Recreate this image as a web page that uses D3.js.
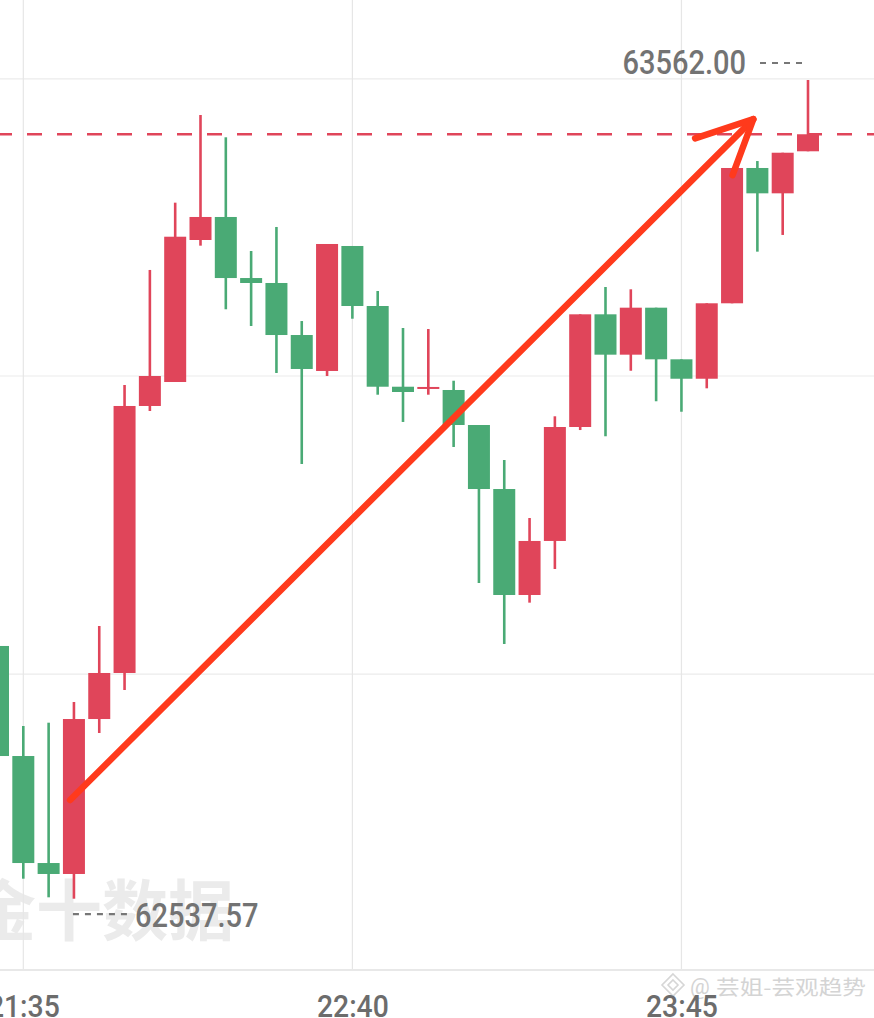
<!DOCTYPE html>
<html>
<head>
<meta charset="utf-8">
<script src="https://cdn.jsdelivr.net/npm/d3@7"></script>
<style>
  body { margin: 0; background: #fff; }
  svg { display: block; }
</style>
</head>
<body>
<svg id="kline" width="874" height="1018"></svg>
<script>
// 5 minute candles, 21:30 -> 00:10
var times = ["21:30", "21:35", "21:40", "21:45", "21:50", "21:55", "22:00", "22:05", "22:10", "22:15", "22:20",
  "22:25", "22:30", "22:35", "22:40", "22:45", "22:50", "22:55", "23:00", "23:05", "23:10", "23:15",
  "23:20", "23:25", "23:30", "23:35", "23:40", "23:45", "23:50", "23:55", "00:00", "00:05", "00:10"];
var opens = [62853.8, 62716.1, 62582.2, 62568.5, 62762.4, 62820.0, 63154.1, 63184.1, 63361.8, 63390.6, 63314.2,
  63308.0, 63242.9, 63197.9, 63354.3, 63279.2, 63178.2, 63175.4, 63174.1, 63130.3, 63050.2, 62917.6,
  62985.2, 63127.8, 63268.8, 63218.3, 63277.1, 63212.5, 63188.2, 63282.6, 63451.9, 63420.2, 63472.8];
var closes = [62716.1, 62582.2, 62568.5, 62762.4, 62820.0, 63154.1, 63191.6, 63365.9, 63390.6, 63314.2, 63308.0,
  63242.9, 63200.4, 63356.8, 63279.2, 63178.2, 63171.6, 63177.9, 63130.3, 63050.2, 62917.6, 62985.2,
  63127.8, 63268.8, 63218.3, 63277.1, 63212.5, 63188.2, 63282.6, 63451.9, 63420.2, 63471.0, 63494.1];
var highs = [62880.0, 62753.7, 62757.8, 62783.7, 62878.8, 63180.4, 63324.3, 63408.5, 63518.2, 63490.3, 63348.0,
  63378.1, 63260.4, 63356.8, 63354.3, 63298.0, 63251.7, 63250.4, 63185.7, 63130.3, 63086.5, 63013.9,
  63141.2, 63268.8, 63303.0, 63300.1, 63277.1, 63212.5, 63282.6, 63451.9, 63460.6, 63471.0, 63562.0];
var lows = [62700.0, 62562.6, 62539.3, 62537.57, 62744.9, 62798.7, 63147.8, 63184.1, 63354.7, 63275.1, 63254.2,
  63195.4, 63081.5, 63191.6, 63263.3, 63168.2, 63134.1, 63168.2, 63102.8, 62932.6, 62856.3, 62908.0,
  62950.1, 63124.0, 63116.2, 63198.2, 63160.0, 63146.9, 63176.2, 63282.6, 63347.2, 63368.1, 63472.8];

var tickTimes = ["21:35", "22:40", "23:45"];
var gridPrices = [62818.7, 63191.6, 63563.3];
var lastPrice = 63494.1;
var maxLabel = "63562.00", minLabel = "62537.57";

// hand drawn arrow: [candle index (fractional), price]
var arrowLine = [[2.85, 62661], [29.84, 63513]];
var arrowHead = [[27.54, 63489], [29.84, 63513], [29.02, 63443]];

var svg = d3.select("#kline"),
    width = +svg.attr("width"),
    plotH = 970;

var upColor = "#e0455a", downColor = "#4aaa75";

var data = times.map(function(t, i) {
  return {t: t, o: opens[i], c: closes[i], h: highs[i], l: lows[i]};
});

var x = d3.scalePoint().domain(times).range([-2, 808]);
var y = d3.scaleLinear().domain([62448.35, 63662.1]).range([plotH, 0]);
var xi = function(k) { return x(times[0]) + k * x.step(); };
var bodyW = 22;

// watermark
svg.append("text")
    .attr("x", -30).attr("y", 935)
    .attr("font-family", "Noto Sans CJK SC")
    .attr("font-weight", 700)
    .attr("font-size", 66)
    .attr("fill", "#ebebeb")
    .text("金十数据");

// grid
svg.append("g").selectAll("line")
  .data(gridPrices)
  .enter().append("line")
    .attr("x1", 0).attr("x2", width)
    .attr("y1", function(d) { return y(d); })
    .attr("y2", function(d) { return y(d); })
    .attr("stroke", "#ebebeb").attr("stroke-width", 1.2);

svg.append("g").selectAll("line")
  .data(tickTimes)
  .enter().append("line")
    .attr("x1", function(d) { return x(d); })
    .attr("x2", function(d) { return x(d); })
    .attr("y1", 0).attr("y2", plotH)
    .attr("stroke", "#e6e6e6").attr("stroke-width", 1.2);

// current price line
svg.append("line")
    .attr("x1", 0).attr("x2", width)
    .attr("y1", y(lastPrice)).attr("y2", y(lastPrice))
    .attr("stroke", upColor).attr("stroke-width", 2.6)
    .attr("stroke-dasharray", "15,15")
    .attr("stroke-dashoffset", 3);

// candles
var candle = svg.append("g").selectAll("g")
  .data(data)
  .enter().append("g")
    .attr("fill", function(d) { return d.c >= d.o ? upColor : downColor; })
    .attr("stroke", function(d) { return d.c >= d.o ? upColor : downColor; });

candle.append("line")
    .attr("x1", function(d) { return x(d.t); })
    .attr("x2", function(d) { return x(d.t); })
    .attr("y1", function(d) { return y(d.h); })
    .attr("y2", function(d) { return y(d.l); })
    .attr("stroke-width", 2.6);

candle.append("rect")
    .attr("stroke", "none")
    .attr("x", function(d) { return x(d.t) - bodyW / 2; })
    .attr("width", bodyW)
    .attr("y", function(d) { return y(Math.max(d.o, d.c)); })
    .attr("height", function(d) { return Math.max(2, Math.abs(y(d.o) - y(d.c))); });

// x axis
svg.append("line")
    .attr("x1", 0).attr("x2", width)
    .attr("y1", plotH).attr("y2", plotH)
    .attr("stroke", "#e8e8e8").attr("stroke-width", 2);

// watermark bottom right
var wm = svg.append("g").attr("fill", "none").attr("stroke", "#d6d6d6").attr("stroke-width", 1.6);
wm.append("path").attr("d", "M673,974 L684,985 L673,996 L662,985 Z");
wm.append("path").attr("d", "M673,980 L678,985 L673,990 L668,985 Z");
svg.append("text")
    .attr("x", 690).attr("y", 994)
    .attr("font-family", "Roboto").attr("font-size", 22)
    .attr("fill", "#d4d4d4")
    .text("@");
svg.append("text")
    .attr("x", 716).attr("y", 995)
    .attr("font-family", "Noto Sans CJK SC").attr("font-size", 20)
    .attr("textLength", 150).attr("lengthAdjust", "spacingAndGlyphs")
    .attr("fill", "#d4d4d4")
    .text("芸姐-芸观趋势");

var axis = svg.append("g")
    .attr("transform", "translate(0," + plotH + ")")
    .call(d3.axisBottom(x).tickValues(tickTimes).tickSize(0).tickPadding(0));
axis.select(".domain").remove();
axis.selectAll("text")
    .attr("y", 46.7).attr("dy", 0)
    .attr("transform", "scale(0.885,1)")
    .attr("font-family", "Roboto").attr("font-size", 32)
    .attr("font-weight", 500)
    .attr("fill", "#6c6c6c");

// max / min labels
var iMax = d3.maxIndex(highs), iMin = d3.minIndex(lows);

svg.append("line")
    .attr("x1", x(times[iMax]) - 48).attr("x2", x(times[iMax]) - 6)
    .attr("y1", y(highs[iMax]) - 17).attr("y2", y(highs[iMax]) - 17)
    .attr("stroke", "#777").attr("stroke-width", 2.2)
    .attr("stroke-dasharray", "6,6");
svg.append("text")
    .attr("transform", "translate(" + (x(times[iMax]) - 62) + "," + (y(highs[iMax]) - 5.7) + ") scale(0.88,1)")
    .attr("text-anchor", "end")
    .attr("font-family", "Roboto").attr("font-size", 33)
    .attr("font-weight", 500)
    .attr("fill", "#737373")
    .text(maxLabel);

svg.append("line")
    .attr("x1", x(times[iMin]) - 1).attr("x2", x(times[iMin]) + 55)
    .attr("y1", y(lows[iMin]) + 15.5).attr("y2", y(lows[iMin]) + 15.5)
    .attr("stroke", "#777").attr("stroke-width", 2.2)
    .attr("stroke-dasharray", "6,6");
svg.append("text")
    .attr("transform", "translate(" + (x(times[iMin]) + 61) + "," + (y(lows[iMin]) + 28) + ") scale(0.88,1)")
    .attr("font-family", "Roboto").attr("font-size", 33)
    .attr("font-weight", 500)
    .attr("fill", "#737373")
    .text(minLabel);

// arrow
var line = d3.line()
    .x(function(d) { return xi(d[0]); })
    .y(function(d) { return y(d[1]); });

var arrow = svg.append("g")
    .attr("fill", "none")
    .attr("stroke", "#ff3a1c")
    .attr("stroke-width", 6.5)
    .attr("stroke-linecap", "round")
    .attr("stroke-linejoin", "round");
arrow.append("path").attr("d", line(arrowLine));
arrow.append("path").attr("d", line(arrowHead));
</script>
</body>
</html>
